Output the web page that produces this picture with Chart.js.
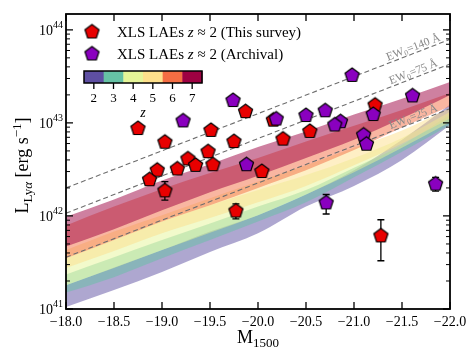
<!DOCTYPE html>
<html>
<head>
<meta charset="utf-8">
<script src="https://cdn.jsdelivr.net/npm/chart.js@4.4.1/dist/chart.umd.min.js"></script>
<style>
  html, body { margin: 0; padding: 0; background: #fff; }
</style>
</head>
<body>
<canvas id="lyaChart" width="469" height="361"></canvas>
<script>
// XLS LAEs z~2, this survey
const surveyM = [-18.75, -19.03, -19.27, -19.35, -18.95, -19.16, -18.87, -19.03, -19.48, -19.53,
                 -19.77, -20.04, -19.51, -19.75, -19.87, -20.16, -20.26, -20.54, -21.22, -21.28];
const surveyL = [8.7e42, 6.2e42, 4.1e42, 3.5e42, 3.1e42, 3.2e42, 2.45e42, 1.86e42, 4.9e42, 3.55e42,
                 1.13e42, 3.0e42, 8.3e42, 6.3e42, 1.32e43, 1.07e43, 6.7e42, 8.1e42, 1.55e43, 6.1e41];
const surveyLo = [null, null, null, null, null, null, null, 1.48e42, null, null,
                  9.3e41, null, null, null, null, null, null, null, null, 3.3e41];
const surveyHi = [null, null, null, null, null, null, null, 2.34e42, null, null,
                  1.35e42, null, null, null, null, null, null, null, null, 9.1e41];

// XLS LAEs z~2, archival
const archM = [-19.22, -19.74, -19.88, -20.19, -20.50, -20.70, -20.98, -20.86, -20.80, -21.10,
               -21.13, -21.20, -21.61, -21.85, -20.71];
const archL = [1.05e43, 1.74e43, 3.55e42, 1.1e43, 1.2e43, 1.35e43, 3.24e43, 1.03e43, 9.5e42, 7.4e42,
               5.9e42, 1.23e43, 1.95e43, 2.2e42, 1.38e42];
const archLo = [null, null, null, null, null, null, null, null, null, null,
                null, null, null, 1.85e42, 1.05e42];
const archHi = [null, null, null, null, null, null, null, null, null, null,
                null, null, null, 2.6e42, 1.7e42];

// model bands per redshift (lower / upper edge) on this M grid
const bandM = [-18.0, -18.5, -19.0, -19.5, -20.0, -20.5, -21.0, -21.5, -22.0];
const z7Upper = [9.8e41, 1.5e42, 2.4e42, 3.6e42, 5.5e42, 8.1e42, 1.23e43, 1.82e43, 2.75e43];
const z7Lower = [4.7e41, 7.2e41, 1.15e42, 1.8e42, 2.7e42, 4.2e42, 6.6e42, 1.12e43, 2.0e43];
const z6Upper = [7.9e41, 1.26e42, 1.95e42, 2.9e42, 4.2e42, 6.3e42, 9.3e42, 1.38e43, 2.09e43];
const z6Lower = [3.5e41, 5.5e41, 8.7e41, 1.3e42, 2.0e42, 3.1e42, 5.1e42, 8.9e42, 1.51e43];
const z5Upper = [4.3e41, 6.8e41, 1.02e42, 1.55e42, 2.35e42, 3.5e42, 5.4e42, 8.3e42, 1.45e43];
const z5Lower = [2.75e41, 4.2e41, 6.5e41, 9.5e41, 1.4e42, 2.1e42, 3.5e42, 6.0e42, 1.12e43];
const z4Upper = [3.5e41, 5.5e41, 8.7e41, 1.3e42, 1.9e42, 2.75e42, 4.2e42, 6.9e42, 1.32e43];
const z4Lower = [1.8e41, 2.75e41, 4.3e41, 6.6e41, 1.02e42, 1.7e42, 2.95e42, 5.4e42, 1.02e43];
const z3Upper = [2.35e41, 3.6e41, 5.5e41, 8.3e41, 1.26e42, 1.9e42, 3.3e42, 5.8e42, 1.23e43];
const z3Lower = [1.5e41, 2.2e41, 3.5e41, 5.5e41, 8.7e41, 1.4e42, 2.6e42, 4.9e42, 9.5e42];
const z2Upper = [1.8e41, 2.8e41, 4.3e41, 6.8e41, 1.02e42, 1.7e42, 3.1e42, 6.6e42, 1.58e43];
const z2Lower = [1.05e41, 1.6e41, 2.5e41, 4.1e41, 6.5e41, 1.26e42, 2.1e42, 4.0e42, 9.5e42];

// constant equivalent width lines (end points at M=-18 and M=-22)
const ewValues = ['140', '75', '25'];
const ewStart = [2.0e42, 1.07e42, 3.6e41];
const ewEnd = [7.9e43, 4.3e43, 1.42e43];

const redshifts = [2, 3, 4, 5, 6, 7];
const zColors = ['#5e4fa2', '#66c2a5', '#e6f598', '#fee08b', '#f46d43', '#9e0142'];

const xTicks = [-18.0, -18.5, -19.0, -19.5, -20.0, -20.5, -21.0, -21.5, -22.0];
const yDecades = [41, 42, 43, 44];

const seriesNames = ['(This survey)', '(Archival)'];

const SERIF = '"Liberation Serif", "DejaVu Serif", serif';
const RED = '#e80000';
const PURPLE = '#8a00bf';

function pentagon(fill, r) {
    const s = Math.ceil(2 * r + 4);
    const c = document.createElement('canvas');
    c.width = s;
    c.height = s;
    const g = c.getContext('2d');
    g.beginPath();
    for (let i = 0; i < 5; i++) {
        const a = -Math.PI / 2 + i * 2 * Math.PI / 5;
        const px = s / 2 + r * Math.cos(a);
        const py = s / 2 + r * Math.sin(a);
        if (i === 0) g.moveTo(px, py); else g.lineTo(px, py);
    }
    g.closePath();
    g.fillStyle = fill;
    g.fill();
    g.lineWidth = 1.2;
    g.strokeStyle = '#000';
    g.stroke();
    return c;
}

const redMarker = pentagon(RED, 7.4);
const purpleMarker = pentagon(PURPLE, 7.4);

function hexA(hex, a) {
    const n = parseInt(hex.slice(1), 16);
    return `rgba(${(n >> 16) & 255}, ${(n >> 8) & 255}, ${n & 255}, ${a})`;
}

const toXY = (xs, ys) => xs.map((v, i) => ({ x: v, y: ys[i] }));

function fontOf(run) {
    return `${run.italic ? 'italic ' : ''}${run.size}px ${SERIF}`;
}

// draws a row of text pieces (for sub/superscripts), returns its width
function drawRuns(ctx, runs, x, y, align) {
    let w = 0;
    runs.forEach(r => { ctx.font = fontOf(r); w += ctx.measureText(r.t).width; });
    let cx = align === 'center' ? x - w / 2 : (align === 'right' ? x - w : x);
    ctx.textAlign = 'left';
    ctx.textBaseline = 'alphabetic';
    runs.forEach(r => {
        ctx.font = fontOf(r);
        ctx.fillText(r.t, cx, y + (r.dy || 0));
        cx += ctx.measureText(r.t).width;
    });
    return w;
}

// datasets: points first so they end up on top
const datasets = [
    {
        label: 'archival', data: toXY(archM, archL), showLine: false,
        pointStyle: purpleMarker, pointRadius: 7, pointHoverRadius: 7
    },
    {
        label: 'survey', data: toXY(surveyM, surveyL), showLine: false,
        pointStyle: redMarker, pointRadius: 7, pointHoverRadius: 7
    }
];

ewValues.forEach((ew, i) => {
    datasets.push({
        label: 'EW ' + ew,
        data: [{ x: -18, y: ewStart[i] }, { x: -22, y: ewEnd[i] }],
        borderColor: '#6e6e6e', borderWidth: 1.1, borderDash: [5, 3],
        pointRadius: 0, fill: false
    });
});

const bandUpper = [z2Upper, z3Upper, z4Upper, z5Upper, z6Upper, z7Upper];
const bandLower = [z2Lower, z3Lower, z4Lower, z5Lower, z6Lower, z7Lower];

// z=7 first in the list -> drawn last (on top), like the original
for (let k = redshifts.length - 1; k >= 0; k--) {
    datasets.push({
        label: 'z=' + redshifts[k],
        data: toXY(bandM, bandUpper[k]),
        borderWidth: 0, pointRadius: 0,
        cubicInterpolationMode: 'monotone',
        backgroundColor: hexA(zColors[k], 0.5),
        fill: '+1'
    });
    datasets.push({
        label: 'z=' + redshifts[k] + ' low',
        data: toXY(bandM, bandLower[k]),
        borderWidth: 0, pointRadius: 0,
        cubicInterpolationMode: 'monotone',
        fill: false
    });
}

const errorBars = {
    id: 'errorBars',
    beforeDatasetDraw(chart, args) {
        if (args.index > 1) return;
        const xs = args.index === 0 ? archM : surveyM;
        const lo = args.index === 0 ? archLo : surveyLo;
        const hi = args.index === 0 ? archHi : surveyHi;
        const { ctx, scales: { x, y } } = chart;
        ctx.save();
        ctx.strokeStyle = '#000';
        ctx.lineWidth = 1.3;
        xs.forEach((m, i) => {
            if (lo[i] === null) return;
            const px = x.getPixelForValue(m);
            const y0 = y.getPixelForValue(lo[i]);
            const y1 = y.getPixelForValue(hi[i]);
            ctx.beginPath();
            ctx.moveTo(px, y0); ctx.lineTo(px, y1);
            ctx.moveTo(px - 3.5, y0); ctx.lineTo(px + 3.5, y0);
            ctx.moveTo(px - 3.5, y1); ctx.lineTo(px + 3.5, y1);
            ctx.stroke();
        });
        ctx.restore();
    }
};

const decorations = {
    id: 'decorations',
    afterDraw(chart) {
        const { ctx, chartArea: a, scales: { x, y } } = chart;
        ctx.save();
        ctx.fillStyle = '#000';
        ctx.strokeStyle = '#000';

        // EW labels along the dashed lines
        ewValues.forEach((ew, i) => {
            const x0 = x.getPixelForValue(-18), y0 = y.getPixelForValue(ewStart[i]);
            const x1 = x.getPixelForValue(-22), y1 = y.getPixelForValue(ewEnd[i]);
            const ang = Math.atan2(y1 - y0, x1 - x0);
            const lx = x.getPixelForValue(-21.64);
            const ly = y0 + (y1 - y0) * (lx - x0) / (x1 - x0);
            ctx.save();
            ctx.translate(lx, ly);
            ctx.rotate(ang);
            ctx.fillStyle = '#8a8a8a';
            drawRuns(ctx, [
                { t: 'EW', size: 11.5 },
                { t: '0', size: 8, dy: 2 },
                { t: '=' + ew + ' \u00c5', size: 11.5 }
            ], 0, -2.5, 'center');
            ctx.restore();
        });

        // ticks, inward on all four sides
        ctx.lineWidth = 1.3;
        ctx.beginPath();
        xTicks.forEach(v => {
            const px = x.getPixelForValue(v);
            ctx.moveTo(px, a.bottom); ctx.lineTo(px, a.bottom - 7);
            ctx.moveTo(px, a.top); ctx.lineTo(px, a.top + 7);
        });
        yDecades.forEach(d => {
            const py = y.getPixelForValue(Math.pow(10, d));
            ctx.moveTo(a.left, py); ctx.lineTo(a.left + 7, py);
            ctx.moveTo(a.right, py); ctx.lineTo(a.right - 7, py);
        });
        ctx.stroke();
        ctx.lineWidth = 1;
        ctx.beginPath();
        yDecades.forEach(d => {
            for (let k = 2; k <= 9; k++) {
                const v = k * Math.pow(10, d);
                if (v > y.max) break;
                const py = y.getPixelForValue(v);
                ctx.moveTo(a.left, py); ctx.lineTo(a.left + 4, py);
                ctx.moveTo(a.right, py); ctx.lineTo(a.right - 4, py);
            }
        });
        ctx.stroke();

        // frame
        ctx.lineWidth = 1.8;
        ctx.strokeRect(a.left, a.top, a.right - a.left, a.bottom - a.top);

        // tick labels
        ctx.font = `14px ${SERIF}`;
        ctx.textAlign = 'center';
        ctx.textBaseline = 'middle';
        xTicks.forEach(v => {
            ctx.fillText('\u2212' + Math.abs(v).toFixed(1), x.getPixelForValue(v), a.bottom + 13);
        });
        yDecades.forEach(d => {
            const py = y.getPixelForValue(Math.pow(10, d));
            drawRuns(ctx, [{ t: '10', size: 14 }, { t: String(d), size: 10, dy: -7 }],
                a.left - 3, py + 5, 'right');
        });

        // axis titles
        drawRuns(ctx, [{ t: 'M', size: 18 }, { t: '1500', size: 13, dy: 4 }],
            (a.left + a.right) / 2, a.bottom + 34, 'center');
        ctx.save();
        ctx.translate(28, (a.top + a.bottom) / 2 + 4);
        ctx.rotate(-Math.PI / 2);
        drawRuns(ctx, [
            { t: 'L', size: 18 },
            { t: 'Ly', size: 13, dy: 4 },
            { t: '\u03b1', size: 13, dy: 4, italic: true },
            { t: ' [erg s', size: 18 },
            { t: '\u22121', size: 13, dy: -7 },
            { t: ']', size: 18 }
        ], 0, 0, 'center');
        ctx.restore();

        // legend
        const legendMarkers = [redMarker, purpleMarker];
        seriesNames.forEach((name, i) => {
            const cy = 32 + i * 22;
            const m = legendMarkers[i];
            ctx.drawImage(m, 92 - m.width / 2, cy - m.height / 2);
            drawRuns(ctx, [
                { t: 'XLS LAEs ', size: 15 },
                { t: 'z', size: 15, italic: true },
                { t: ' \u2248 2 ' + name, size: 15 }
            ], 117, cy + 5, 'left');
        });

        // redshift colour bar
        const cbL = 84, cbT = 71, cbW = 118, cbH = 12;
        const cell = cbW / redshifts.length;
        redshifts.forEach((z, i) => {
            ctx.fillStyle = zColors[i];
            ctx.fillRect(cbL + i * cell, cbT, cell + 0.5, cbH);
        });
        ctx.fillStyle = '#000';
        ctx.lineWidth = 1.5;
        ctx.strokeRect(cbL, cbT, cbW, cbH);
        ctx.lineWidth = 1.3;
        ctx.beginPath();
        redshifts.forEach((z, i) => {
            const cx = cbL + (i + 0.5) * cell;
            ctx.moveTo(cx, cbT + cbH); ctx.lineTo(cx, cbT + cbH + 6);
        });
        ctx.stroke();
        ctx.font = `13px ${SERIF}`;
        ctx.textAlign = 'center';
        ctx.textBaseline = 'middle';
        redshifts.forEach((z, i) => {
            ctx.fillText(String(z), cbL + (i + 0.5) * cell, 99);
        });
        ctx.font = `italic 14px ${SERIF}`;
        ctx.fillText('z', cbL + cbW / 2, 113);

        ctx.restore();
    }
};

new Chart(document.getElementById('lyaChart'), {
    type: 'line',
    data: { datasets: datasets },
    options: {
        responsive: false,
        animation: false,
        layout: { padding: { left: 66, right: 19, top: 14, bottom: 52 } },
        scales: {
            x: { type: 'linear', min: -22, max: -18, reverse: true, display: false },
            y: { type: 'logarithmic', min: 1e41, max: 1.48e44, display: false }
        },
        plugins: {
            legend: { display: false },
            tooltip: { enabled: false }
        }
    },
    plugins: [errorBars, decorations]
});
</script>
</body>
</html>
